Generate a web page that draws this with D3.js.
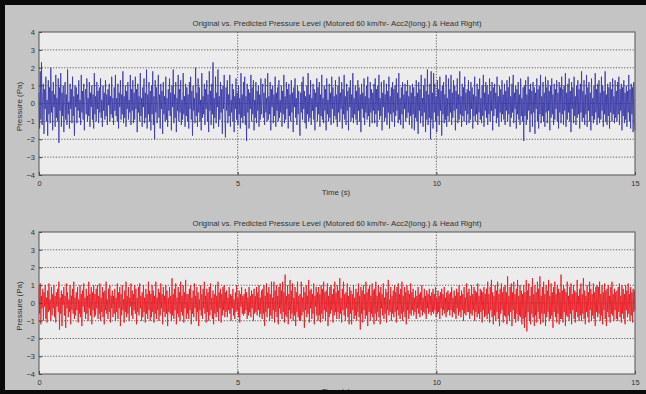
<!DOCTYPE html>
<html><head><meta charset="utf-8">
<script src="https://cdn.jsdelivr.net/npm/d3@7"></script>
<style>body{margin:0;background:#000;}svg{display:block;}</style>
</head><body>
<svg id="c" width="646" height="394"></svg>
<script>
const titleText = "Original vs. Predicted Pressure Level (Motored 60 km/hr- Acc2(long.) & Head Right)";
const xLabel = "Time (s)";
const yLabel = "Pressure (Pa)";
const xTicks = [0, 5, 10, 15];
const yTicks = [-4, -3, -2, -1, 0, 1, 2, 3, 4];
const duration = 15;

const originalSeries = [
0.6,-1.4,1.8,-0.9,2.3,-1.2,0.4,1.1,-1.7,0.8,-0.3,1.5,-1.0,0.2,-1.8,1.3,-0.6,0.9,-1.1,2.0,-0.5,0.7,-1.5,1.2,-0.2,0.5,-1.3,1.6,-0.8,0.3,
-1.0,1.4,-2.2,0.9,-0.4,1.7,-1.3,0.6,-0.7,1.0,-1.6,0.3,1.2,-0.9,0.5,-1.2,1.9,-0.6,0.1,-1.4,1.1,-0.3,0.8,-1.1,1.5,-0.7,0.4,-1.8,1.0,-0.2,
0.9,-1.1,0.5,-0.4,1.3,-0.8,0.2,-1.2,1.6,-0.5,0.7,-0.9,1.1,-1.5,0.4,0.8,-0.6,1.4,-1.0,0.3,-0.7,1.2,-1.3,0.6,-0.2,1.0,-0.9,0.5,-1.4,1.7,
-0.6,0.4,-1.0,1.2,-0.3,0.7,-1.1,0.9,-0.5,1.4,-0.8,0.2,-1.3,1.0,-0.4,0.6,-0.9,1.3,-0.7,0.5,-1.2,0.8,-0.1,1.1,-1.0,0.4,-0.6,1.5,-0.8,0.3,
-1.2,0.9,-0.4,1.6,-0.7,0.3,-1.0,1.1,-1.4,0.6,-0.2,1.3,-0.9,0.5,-0.6,1.8,-1.1,0.4,-0.8,1.0,-1.3,0.7,-0.3,1.2,-0.9,0.2,-0.5,1.6,-1.2,0.8,
-0.4,1.3,-1.1,0.6,-0.9,1.5,-0.3,0.8,-1.6,1.1,-0.5,0.4,-1.0,1.7,-0.7,0.3,-1.3,0.9,-0.2,1.4,-1.1,0.6,-0.8,1.9,-1.4,0.5,-0.6,1.2,-1.0,0.7,
-1.5,1.0,-0.6,1.8,-1.2,0.4,-2.0,1.3,-0.5,0.9,-1.1,0.2,1.6,-0.8,0.5,-1.4,1.1,-0.3,0.7,-1.7,1.2,-0.6,0.4,-1.0,1.5,-0.9,0.3,-1.3,0.8,-0.4,
1.4,-0.7,0.6,-1.5,1.0,-0.2,1.9,-1.1,0.5,-0.8,1.2,-1.6,0.3,-0.4,1.6,-1.0,0.8,-0.5,1.3,-1.2,0.2,-0.9,1.7,-0.6,0.4,-1.3,1.1,-0.7,0.9,-1.0,
0.5,-1.4,1.2,-0.3,1.5,-0.9,0.7,-1.8,1.0,-0.4,0.3,-1.1,2.0,-0.7,0.6,-1.3,1.4,-0.5,0.9,-1.0,0.2,-1.5,1.7,-0.8,0.4,-0.6,1.1,-1.2,0.8,-0.3,
1.3,-1.0,0.5,-1.6,1.8,-0.4,0.7,-1.2,1.1,-0.6,2.3,-1.4,0.3,-0.8,1.5,-1.1,0.6,-0.2,1.9,-1.3,0.4,-0.9,1.2,-0.5,0.8,-1.7,1.0,-0.3,1.6,-0.7,
-1.9,0.9,-0.4,1.3,-1.1,0.5,-0.7,1.6,-1.3,0.2,-0.5,1.1,-1.0,0.8,-1.6,0.4,-0.3,1.4,-0.9,0.6,-1.2,1.0,-0.6,0.3,-1.4,1.7,-0.8,0.5,-1.1,1.2,
-0.7,1.5,-1.2,0.4,-2.1,1.1,-0.5,0.8,-1.4,0.6,-0.3,1.6,-1.0,0.9,-0.6,1.3,-1.5,0.2,-0.8,1.2,-1.1,0.7,-0.4,1.0,-1.3,0.5,-0.9,1.4,-0.6,0.3,
1.1,-0.8,0.6,-1.2,1.4,-0.5,0.3,-1.0,1.7,-0.9,0.4,-0.6,1.2,-1.5,0.8,-0.2,1.0,-1.1,0.5,-0.7,1.5,-1.3,0.6,-0.4,0.9,-1.0,1.3,-0.8,0.2,-0.5,
1.0,-1.3,0.7,-0.6,1.6,-1.1,0.4,-0.9,1.2,-0.3,0.8,-1.4,1.1,-0.7,0.5,-1.0,1.3,-0.5,0.6,-1.6,0.9,-0.2,1.4,-0.8,0.3,-1.2,1.0,-0.6,0.7,-1.1,
-1.8,0.6,-0.5,1.2,-0.9,1.5,-0.3,0.7,-1.1,0.4,-1.4,1.0,-0.6,1.7,-1.0,0.5,-0.8,1.3,-1.2,0.3,-0.4,1.1,-0.9,0.8,-1.5,0.6,-0.2,1.4,-1.0,0.9,
-0.6,1.2,-1.3,0.5,-0.7,1.6,-0.9,0.3,-1.1,1.0,-0.4,0.8,-1.5,1.4,-0.6,0.2,-1.0,1.1,-0.8,0.6,-1.2,1.5,-0.3,0.9,-1.1,0.4,-0.7,1.3,-0.9,0.5,
-1.3,1.0,-0.5,1.5,-1.0,0.6,-0.3,1.2,-1.4,0.8,-0.6,1.6,-0.9,0.4,-1.2,1.1,-0.4,0.7,-1.5,0.9,-0.2,1.3,-1.0,0.5,-0.8,1.7,-1.1,0.3,-0.6,1.0,
-0.9,0.7,-1.2,1.3,-0.4,0.9,-1.0,0.5,-1.6,1.1,-0.3,0.6,-0.8,1.4,-1.2,0.4,-0.5,1.0,-0.9,1.5,-0.7,0.3,-1.3,1.2,-0.5,0.8,-1.1,0.6,-0.4,1.1,
-1.1,1.4,-0.6,0.8,-1.3,1.0,-0.4,1.6,-0.9,0.3,-0.7,1.2,-1.5,0.6,-0.2,1.3,-1.0,0.5,-0.8,1.1,-1.2,0.7,-0.5,1.5,-1.4,0.4,-0.6,0.9,-1.0,1.2,
-0.5,0.8,-1.3,1.0,-0.7,1.4,-0.4,0.6,-1.1,1.7,-0.9,0.3,-1.2,0.9,-0.6,1.2,-1.4,0.5,-0.3,1.1,-1.0,0.7,-0.8,1.3,-0.5,0.4,-1.2,1.0,-0.7,0.6,
-1.4,1.1,-0.6,0.9,-1.5,0.4,-0.8,1.3,-1.0,0.6,-1.7,1.2,-0.4,0.8,-1.1,1.6,-0.7,0.3,-1.3,1.0,-0.5,1.4,-1.6,0.7,-0.9,1.9,-1.2,0.5,-0.8,1.1,
-2.0,1.8,-0.9,0.6,-1.4,1.7,-0.5,1.1,-1.0,0.4,-1.6,1.3,-0.7,0.8,-1.2,1.5,-0.4,0.7,-1.8,1.0,-0.6,1.2,-1.1,0.5,-0.9,1.6,-1.3,0.3,-0.7,1.4,
-1.0,0.8,-0.5,1.6,-1.2,0.6,-0.8,1.3,-0.4,1.0,-1.5,0.7,-0.3,1.4,-1.1,0.5,-0.9,1.8,-0.6,0.4,-1.3,1.1,-0.7,0.9,-1.0,1.5,-0.4,0.6,-1.2,0.8,
-0.6,1.3,-1.1,0.7,-0.9,1.2,-0.3,0.9,-1.4,0.5,-0.7,1.5,-1.0,0.4,-0.6,1.1,-1.2,0.8,-0.5,1.4,-0.9,0.3,-1.1,1.0,-0.7,1.6,-1.3,0.6,-0.4,1.2,
-0.8,1.0,-1.2,0.5,-0.6,1.4,-1.0,0.7,-0.4,1.2,-1.5,0.9,-0.7,1.1,-0.3,0.6,-1.1,1.5,-0.8,0.4,-1.3,1.0,-0.5,0.8,-1.0,1.3,-0.6,0.5,-0.9,1.1,
-1.2,0.7,-0.4,1.3,-1.0,0.9,-0.6,1.5,-1.3,0.4,-0.8,1.1,-0.5,1.6,-1.1,0.6,-0.3,1.0,-1.4,0.8,-0.6,1.2,-0.9,0.5,-1.2,1.4,-0.7,0.3,-1.0,0.9,
-2.1,1.0,-0.7,1.3,-1.2,0.5,-0.9,1.5,-0.4,0.8,-1.6,1.1,-0.6,0.7,-1.3,1.2,-0.5,0.9,-1.7,0.6,-0.3,1.4,-1.0,0.8,-1.4,1.0,-0.6,1.6,-1.1,0.4,
-0.7,1.2,-1.0,0.6,-1.3,1.5,-0.5,0.9,-1.1,1.3,-0.4,0.7,-1.5,1.0,-0.8,1.4,-0.6,0.5,-1.2,1.1,-0.9,0.8,-0.3,1.3,-1.0,0.6,-1.4,1.2,-0.5,0.9,
-1.1,1.5,-0.6,0.8,-1.2,1.0,-0.4,1.7,-1.3,0.6,-0.9,1.1,-0.5,1.4,-1.0,0.7,-1.6,1.2,-0.3,0.9,-1.1,1.5,-0.7,0.4,-1.2,1.0,-0.8,1.3,-0.6,0.8,
-1.4,1.1,-0.5,1.8,-1.0,0.7,-0.8,1.3,-1.2,0.5,-0.6,1.6,-1.3,0.9,-0.4,1.2,-1.0,0.6,-1.5,1.4,-0.7,0.3,-1.1,1.0,-0.9,1.7,-0.5,0.8,-1.2,1.1,
-0.8,1.3,-1.1,0.6,-0.9,1.5,-0.4,1.0,-1.3,0.7,-0.6,1.8,-1.0,0.5,-1.2,1.1,-0.7,0.9,-1.4,1.2,-0.5,0.8,-1.0,1.4,-0.6,0.4,-1.1,1.3,-0.8,0.7,
-1.0,1.2,-0.6,1.5,-1.2,0.8,-0.4,1.1,-1.5,0.9,-0.7,1.3,-1.1,0.6,-0.9,1.0,-1.3,0.7,-0.5,1.6,-1.0,0.8,-1.4,1.1,-0.6,0.9,-1.6,1.2,-0.8,-1.5
];

const predictedSeries = [
0.9,-0.6,1.1,-1.2,0.4,-0.3,0.8,-1.0,0.6,-0.2,1.0,-0.9,0.3,-1.1,0.7,-0.5,1.1,-0.4,0.2,-1.0,0.9,-0.7,0.5,-0.3,1.0,-0.8,0.4,-1.1,0.6,-0.2,
0.8,-0.5,1.2,-1.5,0.3,-0.6,0.7,-1.3,0.5,-0.1,0.9,-0.7,0.4,-1.4,1.1,-0.3,0.6,-0.8,0.2,-0.5,1.0,-1.2,0.4,-0.4,0.8,-0.6,1.2,-0.9,0.3,-0.7,
0.6,-0.4,0.9,-1.1,0.2,-0.6,1.0,-0.8,0.5,-1.3,0.7,-0.2,1.1,-0.5,0.3,-0.9,0.8,-0.6,0.4,-1.0,1.2,-0.3,0.5,-0.7,0.9,-1.2,0.6,-0.4,1.0,-0.8,
0.5,-0.7,0.8,-0.3,1.0,-0.9,0.4,-0.6,1.1,-1.0,0.3,-0.5,0.9,-0.8,0.6,-1.2,0.7,-0.4,1.2,-0.6,0.2,-0.9,0.8,-0.5,1.0,-1.1,0.4,-0.3,0.7,-0.8,
0.4,-0.6,0.8,-1.0,0.3,-0.5,1.1,-0.9,0.6,-0.3,0.9,-1.3,0.5,-0.7,1.0,-0.4,0.2,-1.1,0.7,-0.5,1.2,-0.8,0.4,-0.6,0.9,-1.0,0.3,-0.2,1.1,-0.7,
0.7,-0.9,0.5,-0.4,1.0,-0.6,0.8,-1.2,0.3,-0.5,0.9,-0.7,1.1,-0.3,0.4,-1.0,0.6,-0.8,1.0,-0.5,0.3,-1.1,0.8,-0.6,0.5,-0.9,1.2,-0.4,0.7,-1.0,
0.5,-0.8,1.0,-0.5,0.7,-1.1,0.4,-0.6,1.2,-0.9,0.3,-0.4,0.8,-1.0,0.6,-0.7,1.1,-0.3,0.5,-1.2,0.9,-0.5,0.4,-0.8,1.0,-0.6,0.7,-1.3,0.3,-0.5,
0.9,-0.6,0.4,-1.0,1.4,-0.7,0.5,-0.9,0.8,-0.4,1.1,-1.2,0.3,-0.6,0.9,-0.8,0.6,-1.0,1.2,-0.5,0.4,-0.7,1.0,-1.1,0.6,-0.3,1.3,-0.9,0.5,-0.6,
0.5,-0.9,0.8,-0.4,1.0,-1.2,0.3,-0.6,0.7,-0.8,1.1,-0.3,0.4,-1.0,0.9,-0.5,0.6,-1.3,0.2,-0.4,1.0,-0.7,0.5,-0.9,0.8,-0.3,1.2,-0.6,0.4,-1.1,
0.8,-0.5,0.6,-1.0,0.9,-0.7,1.1,-0.4,0.3,-0.9,0.7,-1.2,0.5,-0.6,1.0,-0.8,0.4,-0.5,1.2,-1.0,0.6,-0.3,0.8,-1.1,0.5,-0.7,0.9,-0.4,1.0,-0.8,
0.6,-0.5,0.7,-0.8,0.3,-0.4,0.9,-0.6,0.5,-1.0,0.4,-0.3,0.8,-0.7,0.2,-0.9,0.6,-0.5,1.0,-0.4,0.3,-0.8,0.7,-1.1,0.5,-0.2,0.9,-0.6,0.4,-0.7,
0.5,-0.6,0.8,-0.4,0.6,-0.9,0.3,-0.7,0.9,-0.5,0.4,-0.8,0.7,-0.3,0.5,-1.0,0.8,-0.6,0.4,-0.5,0.9,-0.7,0.6,-0.4,1.0,-0.8,0.3,-0.6,0.7,-0.9,
0.8,-0.6,1.0,-1.3,0.4,-0.5,1.1,-0.8,0.6,-0.3,0.9,-1.0,0.5,-0.7,1.2,-0.9,0.3,-0.4,1.2,-1.1,0.7,-0.5,1.0,-0.8,0.4,-1.2,0.9,-0.3,1.1,-0.6,
0.7,-0.9,1.2,-0.5,0.6,-1.1,1.6,-0.7,0.4,-0.8,1.0,-1.2,0.5,-0.4,1.3,-0.9,0.7,-0.6,1.1,-1.0,0.3,-0.7,0.9,-1.3,0.6,-0.5,1.2,-0.8,0.4,-1.0,
0.5,-1.0,1.2,-0.7,0.3,-0.5,0.9,-1.4,0.6,-0.4,1.0,-0.8,0.4,-0.6,1.3,-1.1,0.7,-0.3,0.8,-0.9,0.5,-0.6,1.1,-1.2,0.4,-0.2,0.9,-0.7,0.6,-1.0,
0.9,-0.7,0.5,-1.1,1.0,-0.6,0.8,-0.9,1.2,-0.4,0.6,-1.0,0.7,-0.5,1.1,-1.3,0.4,-0.8,0.9,-0.6,1.0,-0.4,0.5,-1.1,0.8,-0.7,1.2,-0.5,0.6,-0.9,
1.0,-0.5,0.7,-0.9,1.4,-0.6,0.3,-1.1,0.8,-0.4,1.2,-0.7,0.5,-1.0,0.6,-0.3,1.1,-0.8,0.4,-1.2,0.9,-0.6,0.7,-1.2,0.5,-0.4,1.0,-0.9,0.3,-0.7,
0.8,-1.0,0.6,-0.5,1.1,-0.8,0.4,-1.5,0.9,-0.6,0.7,-1.1,1.0,-0.4,0.5,-0.9,1.2,-0.7,0.6,-1.3,0.8,-0.5,1.0,-1.0,0.4,-0.6,1.1,-0.8,0.7,-1.2,
0.8,-0.6,1.2,-1.0,0.4,-0.5,1.0,-0.8,0.6,-1.2,0.9,-0.3,0.5,-0.7,1.1,-0.9,0.3,-0.6,0.8,-1.1,0.6,-0.4,1.3,-0.7,0.2,-0.5,0.9,-1.0,0.4,-0.6,
0.7,-0.8,1.0,-0.5,0.6,-1.1,0.9,-0.4,1.1,-0.7,0.5,-0.9,0.8,-0.6,1.2,-1.0,0.4,-0.5,0.9,-0.8,0.6,-1.2,1.0,-0.4,0.7,-0.9,0.5,-0.6,1.1,-0.7,
0.6,-0.4,0.8,-0.7,0.3,-0.5,0.7,-0.9,0.4,-0.3,0.9,-0.6,0.5,-0.8,0.6,-0.4,1.0,-0.7,0.3,-0.5,0.8,-0.6,0.4,-0.9,0.7,-0.3,0.5,-0.6,0.8,-0.5,
0.4,-0.7,0.6,-0.5,0.8,-0.6,0.5,-0.4,0.9,-0.8,0.3,-0.6,0.7,-0.5,0.4,-0.9,0.6,-0.3,0.8,-0.7,0.5,-0.4,0.9,-0.6,0.3,-0.8,0.6,-0.5,0.7,-0.4,
0.5,-0.7,0.6,-0.4,0.9,-0.8,0.3,-0.5,0.7,-0.6,0.4,-0.9,0.8,-0.3,0.6,-0.7,1.0,-0.5,0.4,-0.8,0.7,-0.4,0.5,-1.0,0.9,-0.6,0.3,-0.7,1.1,-0.5,
0.6,-0.5,0.8,-0.9,0.4,-0.6,1.0,-0.7,0.5,-0.4,0.9,-1.0,0.7,-0.5,0.6,-0.8,1.1,-0.6,0.4,-0.9,0.8,-0.5,0.7,-1.1,0.6,-0.4,0.9,-0.8,0.5,-0.7,
0.8,-0.9,1.2,-0.6,0.5,-1.1,0.9,-0.4,1.3,-0.8,0.6,-1.2,0.4,-0.7,1.0,-1.0,0.7,-0.5,1.2,-0.9,0.5,-1.3,0.8,-0.6,1.1,-0.4,0.6,-1.1,0.9,-0.7,
1.0,-0.8,0.6,-1.2,1.5,-0.7,0.4,-1.0,0.9,-0.5,1.1,-1.3,0.6,-0.4,1.2,-0.9,0.5,-1.1,0.8,-0.6,1.3,-1.0,0.4,-0.7,1.0,-0.8,0.7,-1.2,0.5,-0.9,
1.0,-1.4,0.6,-0.8,1.3,-1.6,0.7,-0.5,1.1,-1.0,0.4,-1.2,0.9,-0.6,1.4,-0.8,0.5,-1.3,1.0,-0.7,0.6,-1.1,1.2,-0.5,0.8,-0.9,1.5,-1.2,0.4,-0.6,
0.9,-1.1,1.2,-0.6,0.5,-1.3,1.0,-0.8,0.7,-0.5,1.3,-1.0,0.4,-0.9,1.1,-0.7,0.6,-1.4,0.9,-0.5,1.2,-0.8,0.5,-1.1,1.0,-0.6,0.8,-1.2,0.6,-0.9,
1.6,-0.9,0.7,-1.1,1.0,-0.5,0.8,-1.3,0.6,-0.7,1.2,-0.8,0.4,-1.0,0.9,-0.6,1.1,-1.2,0.5,-0.4,1.0,-0.9,0.7,-1.1,0.6,-0.5,1.3,-0.8,0.4,-1.0,
0.8,-0.7,1.1,-1.0,0.5,-0.6,1.4,-0.9,0.7,-1.2,0.4,-0.5,1.0,-0.8,0.6,-1.1,1.2,-0.4,0.8,-1.0,0.5,-0.7,1.1,-0.9,0.6,-1.3,0.9,-0.5,1.0,-0.8,
0.9,-0.6,1.2,-1.0,0.5,-0.7,1.0,-1.2,0.6,-0.4,1.1,-0.9,0.7,-1.3,0.8,-0.5,1.0,-0.8,0.4,-1.1,0.9,-0.6,1.2,-0.7,0.5,-1.0,0.8,-0.4,0.6,-0.9,
0.7,-1.0,0.9,-0.5,1.1,-0.8,0.4,-1.1,1.0,-0.6,0.8,-0.9,0.5,-1.2,1.0,-0.4,0.7,-0.8,1.1,-0.6,0.5,-1.0,0.9,-0.7,0.6,-1.1,0.8,-0.5,0.7,-0.4
];

const svg = d3.select("#c");
const W = 646, H = 394;
svg.append("rect").attr("width", W).attr("height", H).attr("fill", "#c4c4c4");

const font = "'Liberation Sans', Arial, sans-serif";

function panel(top, bottom, data, color) {
  const left = 39, right = 635;
  const x = d3.scaleLinear().domain([0, duration]).range([left, right]);
  const y = d3.scaleLinear().domain([-4, 4]).range([bottom, top]);
  const g = svg.append("g");
  g.append("rect").attr("x", left).attr("y", top).attr("width", right - left).attr("height", bottom - top)
    .attr("fill", "#ececec");
  // grid
  g.append("g").selectAll("line").data(yTicks.filter(v => v > -4 && v < 4)).join("line")
    .attr("x1", left).attr("x2", right).attr("y1", d => y(d)).attr("y2", d => y(d))
    .attr("stroke", "#3a3a3a").attr("stroke-width", 0.8).attr("stroke-dasharray", "1.2,1.6");
  g.append("g").selectAll("line").data(xTicks.filter(v => v > 0 && v < duration)).join("line")
    .attr("x1", d => x(d)).attr("x2", d => x(d)).attr("y1", top).attr("y2", bottom)
    .attr("stroke", "#3a3a3a").attr("stroke-width", 0.8).attr("stroke-dasharray", "1.2,1.6");
  // line
  const n = data.length;
  const line = d3.line().x((d, i) => x(i * duration / (n - 1))).y(d => y(d));
  g.append("path").datum(data).attr("d", line).attr("fill", "none")
    .attr("stroke", color).attr("stroke-width", 0.8).attr("stroke-linejoin", "bevel");
  // axes (inward ticks, MATLAB-like)
  const ax = d3.axisBottom(x).tickValues(xTicks).tickSize(-3).tickPadding(4).tickFormat(d3.format("d"));
  const axG = g.append("g").attr("transform", `translate(0,${bottom})`).call(ax);
  const ay = d3.axisLeft(y).tickValues(yTicks).tickSize(-3).tickPadding(4).tickFormat(d3.format("d"));
  const ayG = g.append("g").attr("transform", `translate(${left},0)`).call(ay);
  [axG, ayG].forEach(a => {
    a.select(".domain").remove();
    a.selectAll("line").attr("stroke", "#444");
    a.selectAll("text").attr("font-family", font).attr("font-size", 7.5).attr("fill", "#333");
  });
  axG.selectAll("text").attr("dy", "0.9em");
  g.append("rect").attr("x", left).attr("y", top).attr("width", right - left).attr("height", bottom - top)
    .attr("fill", "none").attr("stroke", "#555").attr("stroke-width", 1);
  g.append("text").attr("x", (left + right) / 2).attr("y", top - 6).attr("text-anchor", "middle")
    .attr("font-family", font).attr("font-size", 7.8).attr("fill", "#333").text(titleText);
  g.append("text").attr("x", (left + right) / 2 - 1).attr("y", bottom + 20).attr("text-anchor", "middle")
    .attr("font-family", font).attr("font-size", 7.8).attr("fill", "#333").text(xLabel);
  g.append("text").attr("transform", `translate(22,${(top + bottom) / 2 + 3}) rotate(-90)`).attr("text-anchor", "middle")
    .attr("font-family", font).attr("font-size", 8).attr("fill", "#333").text(yLabel);
}

panel(32, 175, originalSeries, "#3434a4");
panel(232, 374, predictedSeries, "#e8141c");

// black frame pieces (the bottom band crops the lower x-axis label, as in the reference)
svg.append("rect").attr("x", 0).attr("y", 0).attr("width", W).attr("height", 5).attr("fill", "#0a0a0a");
svg.append("rect").attr("x", 0).attr("y", 0).attr("width", 5).attr("height", H).attr("fill", "#0a0a0a");
svg.append("rect").attr("x", 0).attr("y", 390).attr("width", W).attr("height", 4).attr("fill", "#0a0a0a");
</script>
</body></html>
